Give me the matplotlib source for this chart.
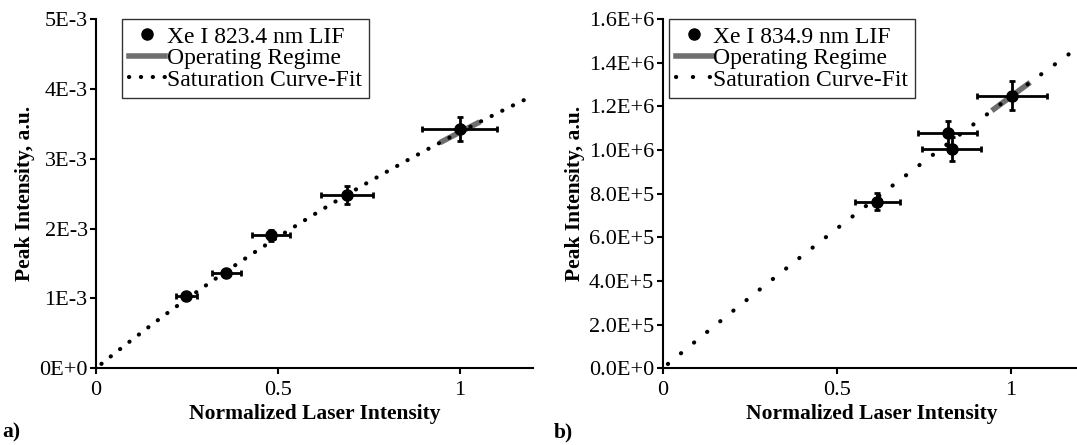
import numpy as np
import matplotlib.pyplot as plt
from matplotlib.lines import Line2D

plt.rcParams['font.family'] = ['Liberation Serif', 'DejaVu Serif']

# Xe I 823.4 nm LIF measurements
x_a = [0.248, 0.358, 0.480, 0.689, 1.000]
y_a = [1.036e-3, 1.357e-3, 1.905e-3, 2.480e-3, 3.420e-3]
xerr_a = [0.029, 0.040, 0.052, 0.072, 0.103]
yerr_a = [0.03e-3, 0.05e-3, 0.08e-3, 0.13e-3, 0.17e-3]

# Xe I 834.9 nm LIF measurements
x_b = [0.616, 0.818, 0.830, 1.002]
y_b = [7.63e5, 10.79e5, 10.06e5, 12.49e5]
xerr_b = [0.064, 0.085, 0.085, 0.100]
yerr_b = [0.38e5, 0.56e5, 0.55e5, 0.65e5]

# saturation fit y = a*x / (1 + b*x)
fit_a = (4.225e-3, 0.25)
fit_b = (13.16e5, 0.057)
regime = (0.945, 1.055)

yticks_a = [0, 1e-3, 2e-3, 3e-3, 4e-3, 5e-3]
ylabels_a = ['0E+0', '1E-3', '2E-3', '3E-3', '4E-3', '5E-3']
yticks_b = [i * 2e5 for i in range(9)]
ylabels_b = ['0.0E+0', '2.0E+5', '4.0E+5', '6.0E+5', '8.0E+5',
             '1.0E+6', '1.2E+6', '1.4E+6', '1.6E+6']

fig = plt.figure(figsize=(10.77, 4.45), dpi=100)
ax1 = fig.add_axes([0.0891, 0.1724, 0.4055, 0.7849])
ax2 = fig.add_axes([0.6153, 0.1724, 0.3881, 0.7849])


def saturation(x, a, b):
    return a * x / (1 + b * x)


def panel(ax, x, y, xerr, yerr, fit, name, yticks, ylabels, ymax, gap, legx):
    xf = np.linspace(0.015, 1.2, 300)
    ax.plot(xf, saturation(xf, *fit), color='black', lw=3.0,
            linestyle=(0, (0.05, gap)), dash_capstyle='round', zorder=4)
    xr = np.linspace(regime[0], regime[1], 20)
    ax.plot(xr, saturation(xr, *fit), color='#6e6e6e', lw=4.0,
            solid_capstyle='butt', zorder=3)
    ax.errorbar(x, y, xerr=xerr, yerr=yerr, fmt='o', color='black',
                ms=8, elinewidth=2.0, capsize=2.5, capthick=2.0, zorder=5)
    ax.set_xlim(0, 1.2)
    ax.set_ylim(0, ymax)
    ax.set_xticks([0, 0.5, 1])
    ax.set_xticklabels(['0', '0.5', '1'])
    ax.set_yticks(yticks)
    ax.set_yticklabels(ylabels)
    ax.tick_params(labelsize=16, length=4, width=1.5, direction='out', pad=2)
    ax.tick_params(axis='x', pad=5)
    for s in ['top', 'right']:
        ax.spines[s].set_visible(False)
    for s in ['left', 'bottom']:
        ax.spines[s].set_linewidth(1.5)
    ax.set_xlabel('Normalized Laser Intensity', fontsize=15.5,
                  fontweight='bold', labelpad=3)
    ax.set_ylabel('Peak Intensity, a.u.', fontsize=15.5, fontweight='bold',
                  labelpad=3)
    handles = [
        Line2D([], [], ls='none', marker='o', ms=8, color='black'),
        Line2D([], [], color='#6e6e6e', lw=4.0),
        Line2D([], [], color='black', lw=3.0, linestyle=(0, (0.05, gap)),
               dash_capstyle='round'),
    ]
    labels = [name, 'Operating Regime', 'Saturation Curve-Fit']
    leg = ax.legend(handles, labels, loc='upper left',
                    bbox_to_anchor=(legx, 1.0), fontsize=17, frameon=True,
                    fancybox=False, handlelength=1.55, handletextpad=0.05,
                    borderpad=0.3, labelspacing=0.0, borderaxespad=0.0)
    leg.get_frame().set_edgecolor('black')
    leg.get_frame().set_linewidth(1.0)


panel(ax1, x_a, y_a, xerr_a, yerr_a, fit_a, 'Xe I 823.4 nm LIF',
      yticks_a, ylabels_a, 5e-3, 2.8, 0.059)
panel(ax2, x_b, y_b, xerr_b, yerr_b, fit_b, 'Xe I 834.9 nm LIF',
      yticks_b, ylabels_b, 1.6e6, 4.0, 0.014)

fig.text(0.002, 0.006, 'a)', fontsize=15.5, fontweight='bold', va='bottom')
fig.text(0.514, 0.006, 'b)', fontsize=15.5, fontweight='bold', va='bottom')

fig.savefig('out.png', dpi=100)
